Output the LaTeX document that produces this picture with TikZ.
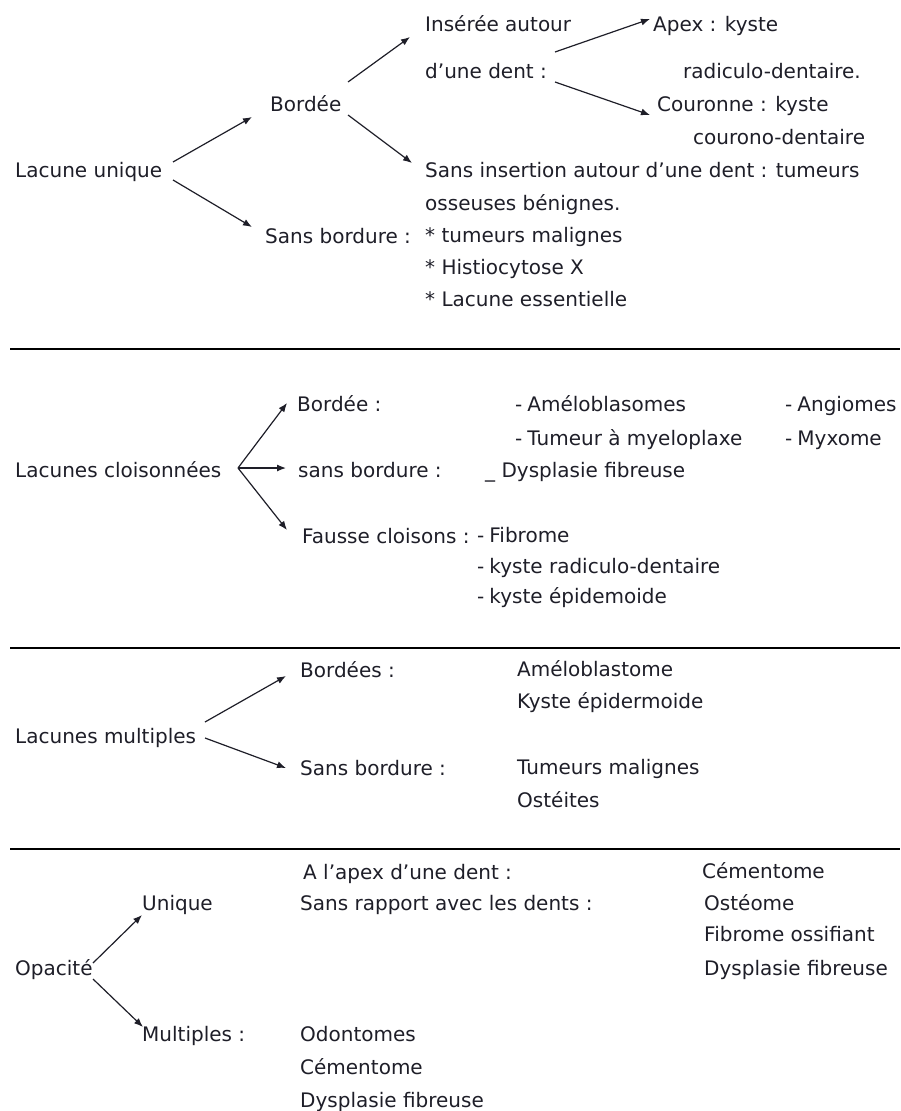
\documentclass[tikz,border=0pt]{standalone}
\usepackage{fontspec}
\setmainfont{DejaVu Sans}
\usetikzlibrary{arrows.meta,calc}
\definecolor{ink}{HTML}{1E1E28}
\newcommand{\itemdash}{-\hspace{5pt}}

\begin{document}
\begin{tikzpicture}[x=1pt,y=-1pt,
  lbl/.style={anchor=base west,inner sep=0pt,font=\fontsize{20}{24}\selectfont,text=ink},
  arr/.style={draw=ink,line width=1.2pt,-{Latex[length=9pt,width=7pt]}},
  rule/.style={line width=2pt,draw=black}]
\useasboundingbox (0,0) rectangle (900,1111);

% ---------- Lacune unique ----------
\node[lbl] (lu)  at (15,177)  {Lacune unique};
\node[lbl] (bo)  at (270,111) {Bordée};
\node[lbl] (sb)  at (265,243) {Sans bordure :};
\node[lbl] (in1) at (425,31)  {Insérée autour};
\node[lbl] (in2) at (425,78)  {d'une dent :};
\node[lbl] (ap1) at (653,31)  {Apex : kyste};
\node[lbl] (ap2) at (683,78)  {radiculo-dentaire.};
\node[lbl] (co1) at (657,111) {Couronne : kyste};
\node[lbl] (co2) at (693,144) {courono-dentaire};
\node[lbl] (si1) at (425,177) {Sans insertion autour d'une dent : tumeurs};
\node[lbl] (si2) at (425,210) {osseuses bénignes.};
\node[lbl] (t1)  at (425,242) {* tumeurs malignes};
\node[lbl] (t2)  at (425,274) {* Histiocytose X};
\node[lbl] (t3)  at (425,306) {* Lacune essentielle};

\draw[arr] ($(lu.base west)+(158,-15)$) -- ($(bo.base west)+(-18,6)$);
\draw[arr] ($(lu.base west)+(158,3)$)   -- ($(sb.base west)+(-13,-16)$);
\draw[arr] ($(bo.base west)+(78,-29)$)  -- ($(in1.base west)+(-15,6)$);
\draw[arr] ($(bo.base west)+(78,4)$)    -- ($(si1.base west)+(-13,-14)$);
\draw[arr] ($(in2.base west)+(130,-26)$) -- ($(ap1.base west)+(-3,-12)$);
\draw[arr] ($(in2.base west)+(130,4)$)   -- ($(co1.base west)+(-7,4)$);

\draw[rule] (10,349) -- (900,349);

% ---------- Lacunes cloisonnées ----------
\node[lbl] (lc) at (15,477)  {Lacunes cloisonnées};
\node[lbl] (b2) at (297,411) {Bordée :};
\node[lbl] (s2) at (298,477) {sans bordure :};
\node[lbl] (f2) at (302,543) {Fausse cloisons :};
\node[lbl] (a1) at (515,411) {\itemdash Améloblasomes};
\node[lbl] (a2) at (515,445) {\itemdash Tumeur à myeloplaxe};
\node[lbl] (a3) at (485,477) {\_ Dysplasie fibreuse};
\node[lbl] (a4) at (785,411) {\itemdash Angiomes};
\node[lbl] (a5) at (785,445) {\itemdash Myxome};
\node[lbl] (a6) at (477,542) {\itemdash Fibrome};
\node[lbl] (a7) at (477,573) {\itemdash kyste radiculo-dentaire};
\node[lbl] (a8) at (477,603) {\itemdash kyste épidemoide};

\draw[arr] ($(lc.base west)+(223,-9)$) -- ($(b2.base west)+(-10,-8)$);
\draw[arr] ($(lc.base west)+(223,-9)$) -- ($(s2.base west)+(-12,-9)$);
\draw[arr] ($(lc.base west)+(223,-9)$) -- ($(f2.base west)+(-15,-13)$);

\draw[rule] (10,648) -- (900,648);

% ---------- Lacunes multiples ----------
\node[lbl] (lm) at (15,743)  {Lacunes multiples};
\node[lbl] (b3) at (300,677) {Bordées :};
\node[lbl] (s3) at (300,775) {Sans bordure :};
\node[lbl] (m1) at (517,676) {Améloblastome};
\node[lbl] (m2) at (517,708) {Kyste épidermoide};
\node[lbl] (m3) at (517,774) {Tumeurs malignes};
\node[lbl] (m4) at (517,807) {Ostéites};

\draw[arr] ($(lm.base west)+(190,-21)$) -- ($(b3.base west)+(-14,-1)$);
\draw[arr] ($(lm.base west)+(190,-5)$)  -- ($(s3.base west)+(-14,-7)$);

\draw[rule] (10,849) -- (900,849);

% ---------- Opacité ----------
\node[lbl] (op) at (15,975)   {Opacité};
\node[lbl] (un) at (142,910)  {Unique};
\node[lbl] (mu) at (142,1041) {Multiples :};
\node[lbl] (ax) at (303,879)  {A l'apex d'une dent :};
\node[lbl] (sr) at (300,910)  {Sans rapport avec les dents :};
\node[lbl] (od) at (300,1041) {Odontomes};
\node[lbl] (ce) at (300,1074) {Cémentome};
\node[lbl] (dy) at (300,1107) {Dysplasie fibreuse};
\node[lbl] (c2) at (702,878)  {Cémentome};
\node[lbl] (os) at (704,910)  {Ostéome};
\node[lbl] (fo) at (704,941)  {Fibrome ossifiant};
\node[lbl] (d2) at (704,975)  {Dysplasie fibreuse};

\draw[arr] ($(op.base west)+(78,-12)$) -- ($(un.base west)+(0,5)$);
\draw[arr] ($(op.base west)+(78,4)$)   -- ($(mu.base west)+(1,-14)$);
\end{tikzpicture}
\end{document}
